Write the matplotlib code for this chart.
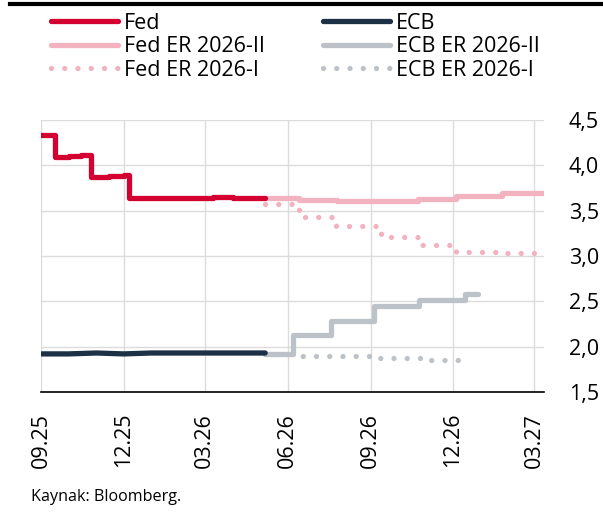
import matplotlib
matplotlib.use("Agg")
import matplotlib.pyplot as plt
import pandas as pd
from matplotlib.lines import Line2D

plt.rcParams["font.family"] = ["Open Sans", "DejaVu Sans"]

# realised policy rates
fed_dates = ["2025-09-01", "2025-09-16", "2025-10-01", "2025-10-15", "2025-10-26", "2025-11-15",
             "2025-12-01", "2025-12-07", "2026-01-15", "2026-02-20", "2026-03-10", "2026-04-01", "2026-05-07"]
fed_vals = [4.33, 4.09, 4.10, 4.11, 3.87, 3.88, 3.89, 3.64, 3.64, 3.64, 3.65, 3.64, 3.64]

ecb_dates = ["2025-09-01", "2025-10-01", "2025-11-01", "2025-12-01", "2026-01-01",
             "2026-02-01", "2026-03-01", "2026-04-01", "2026-05-07"]
ecb_vals = [1.92, 1.92, 1.93, 1.92, 1.93, 1.93, 1.93, 1.93, 1.93]

# market-implied paths (ER 2026-II)
fed_er2_dates = ["2026-05-07", "2026-06-14", "2026-07-26", "2026-10-23", "2026-12-05", "2027-01-24", "2027-03-13"]
fed_er2_vals = [3.64, 3.62, 3.61, 3.63, 3.66, 3.69, 3.69]

ecb_er2_dates = ["2026-05-07", "2026-06-07", "2026-07-19", "2026-09-05", "2026-10-25", "2026-12-14", "2026-12-29"]
ecb_er2_vals = [1.92, 2.13, 2.28, 2.45, 2.52, 2.58, 2.58]

# market-implied paths (ER 2026-I)
fed_er1_dates = ["2026-05-07", "2026-06-14", "2026-07-25", "2026-09-12", "2026-10-28", "2026-12-05", "2027-01-22", "2027-03-06"]
fed_er1_vals = [3.57, 3.43, 3.33, 3.21, 3.12, 3.04, 3.03, 3.03]

ecb_er1_dates = ["2026-05-07", "2026-06-10", "2026-09-10", "2026-10-29", "2026-12-20"]
ecb_er1_vals = [1.92, 1.90, 1.88, 1.85, 1.85]

tick_dates = ["2025-09-01", "2025-12-01", "2026-03-01", "2026-06-01", "2026-09-01", "2026-12-01", "2027-03-01"]
tick_labels = ["09.25", "12.25", "03.26", "06.26", "09.26", "12.26", "03.27"]
y_ticks = [1.5, 2.0, 2.5, 3.0, 3.5, 4.0, 4.5]

RED = "#d50032"
NAVY = "#1c3046"
PINK = "#f2b2c0"
GREY = "#bcc2c8"
FS = 15.5
LW = 3.8
DOT = (0, (0.01, 2.5))

fig = plt.figure(figsize=(6.03, 5.14), dpi=100)
ax = fig.add_axes([0.0688, 0.2374, 0.8332, 0.5291])


def d(lst):
    return pd.to_datetime(lst)


solid = dict(lw=LW, drawstyle="steps-post", solid_capstyle="round", solid_joinstyle="round")
dotted = dict(lw=LW, ls=DOT, dash_capstyle="round", dash_joinstyle="round", drawstyle="steps-post")

ax.plot(d(fed_er2_dates), fed_er2_vals, color=PINK, zorder=3, **solid)
ax.plot(d(ecb_er2_dates), ecb_er2_vals, color=GREY, zorder=3, **solid)
ax.plot(d(fed_er1_dates), fed_er1_vals, color=PINK, zorder=2, **dotted)
ax.plot(d(ecb_er1_dates), ecb_er1_vals, color=GREY, zorder=2, **dotted)
ax.plot(d(fed_dates), fed_vals, color=RED, zorder=4, **solid)
ax.plot(d(ecb_dates), ecb_vals, color=NAVY, lw=LW, solid_capstyle="round", solid_joinstyle="round", zorder=4)

ax.set_xlim(pd.Timestamp("2025-09-01"), pd.Timestamp("2027-03-12"))
ax.set_ylim(1.5, 4.5)
ax.set_xticks(d(tick_dates))
ax.set_xticklabels(tick_labels, rotation=90, fontsize=FS)
ax.set_yticks(y_ticks)
ax.set_yticklabels([f"{v:.1f}".replace(".", ",") for v in y_ticks], fontsize=FS)
ax.yaxis.tick_right()
ax.tick_params(axis="y", length=0, pad=18)
ax.tick_params(axis="x", length=0, pad=15)
ax.grid(True, color="#dcdcdc", lw=1)
ax.set_axisbelow(True)
for s in ["top", "left", "right"]:
    ax.spines[s].set_visible(False)
ax.spines["bottom"].set_color("black")
ax.spines["bottom"].set_linewidth(1.2)

handles = [
    Line2D([], [], color=RED, lw=LW, solid_capstyle="round"),
    Line2D([], [], color=PINK, lw=LW, solid_capstyle="round"),
    Line2D([], [], color=PINK, lw=LW, ls=DOT, dash_capstyle="round"),
    Line2D([], [], color=NAVY, lw=LW, solid_capstyle="round"),
    Line2D([], [], color=GREY, lw=LW, solid_capstyle="round"),
    Line2D([], [], color=GREY, lw=LW, ls=DOT, dash_capstyle="round"),
]
labels = ["Fed", "Fed ER 2026-II", "Fed ER 2026-I", "ECB", "ECB ER 2026-II", "ECB ER 2026-I"]
fig.legend(handles, labels, ncol=2, loc="upper left", bbox_to_anchor=(0.07, 0.992), frameon=False,
           fontsize=FS, handlelength=3.1, handletextpad=0.3, columnspacing=2.7, labelspacing=0.12,
           borderaxespad=0)

fig.add_artist(Line2D([10 / 603, 1.0], [1 - 4 / 514, 1 - 4 / 514], transform=fig.transFigure, color="black", lw=3))
fig.text(31 / 603, 1 - 497 / 514, "Kaynak: Bloomberg.", fontsize=11.6, va="center", ha="left")

fig.savefig("out.png", dpi=100)
